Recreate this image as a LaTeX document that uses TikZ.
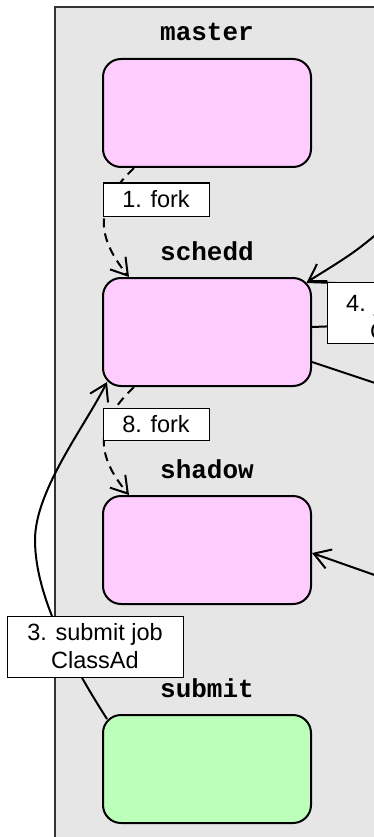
\documentclass[tikz,border=0pt]{standalone}
\usepackage{fontspec}
\setmainfont{Liberation Sans}
\newfontfamily\daemonfont{Liberation Mono}
\usetikzlibrary{arrows.meta}

\definecolor{panelgray}{HTML}{E6E6E6}
\definecolor{procpink}{HTML}{FFCCFF}
\definecolor{procgreen}{HTML}{BBFFBB}

\tikzset{
  panel/.style={draw=black!80, line width=1.5pt, fill=panelgray},
  daemon/.style={draw=black, line width=2pt, rounded corners=18pt,
    minimum width=208pt, minimum height=108pt, inner sep=0pt, fill=procpink},
  daemontitle/.style={anchor=base, inner sep=0pt,
    font=\daemonfont\bfseries\fontsize{26}{30}\selectfont},
  msgbox/.style={draw=black, line width=1pt, fill=white, inner sep=0pt,
    align=center, font=\fontsize{23.5}{28}\selectfont},
  msgtext/.style={anchor=base west, inner sep=0pt,
    font=\fontsize{23.5}{28}\selectfont},
  flow/.style={line width=2pt, -{Straight Barb[length=16pt,width=20pt]}},
  fork/.style={flow, dash pattern=on 9pt off 6pt},
  link/.style={line width=2pt},
}

\begin{document}
\begin{tikzpicture}[x=1pt,y=-1pt]
\useasboundingbox (0,0) rectangle (374,837);
\clip (0,0) rectangle (374,837);

% submit machine panel
\draw[panel] (55,7) rectangle (440,900);

% daemons
\node[daemon] (master) at (207,113) {};
\node[daemon] (schedd) at (207,332) {};
\node[daemon] (shadow) at (207,550) {};
\node[daemon, fill=procgreen] (submit) at (207,769) {};

\node[daemontitle] (masterT) at (207,41) {master};
\node[daemontitle] (scheddT) at (207,260) {schedd};
\node[daemontitle] (shadowT) at (207,478) {shadow};
\node[daemontitle] (submitT) at (207,697) {submit};

% off-page ends of the links to the other machines
\coordinate (inSchedd) at (400,214);
\coordinate (outA) at (420,286);
\coordinate (outB) at (420,323);
\coordinate (outC) at (420,398);
\coordinate (inShadow) at (420,591);

% forks
\draw[fork] ([xshift=32pt]master.south west)
  .. controls (95,205) and (95,235) .. ([xshift=27pt]schedd.north west);
\draw[fork] ([xshift=32pt]schedd.south west)
  .. controls (95,424) and (95,454) .. ([xshift=27pt]shadow.north west);

% submit job ClassAd to the schedd
\draw[flow] ([shift={(5pt,-5pt)}]submit.north west)
  .. controls (77,672) and (35,600) .. (35,540)
  .. controls (35,490) and (85.5,425.5) .. ([shift={(5pt,5pt)}]schedd.south west);

% links to and from the other machines
\draw[flow] (inSchedd) .. controls (357,251) .. ([shift={(-5pt,-5pt)}]schedd.north east);
\draw[link] ([shift={(-5pt,-5pt)}]schedd.north east) -- (outA);
\draw[link] ([yshift=5pt]schedd.east) -- (outB);
\draw[link] ([yshift=-30pt]schedd.east) -- (outC);
\draw[flow] (inShadow) -- ([yshift=-3pt]shadow.east);

% message labels
\node[msgbox, minimum width=106pt, minimum height=33pt] (lfork1) at (156,199.5) {1. fork};
\node[msgbox, minimum width=106pt, minimum height=32pt] (lfork8) at (156,424) {8. fork};
\node[msgbox, minimum width=176pt, minimum height=61pt] (lsubmit) at (95,646.5) {3. submit job\\ClassAd};
\node[msgbox, minimum width=160pt, minimum height=61pt] (ljob) at (407,312.5) {};
\node[msgtext] (ljobA) at (346,311) {4. job};
\node[msgtext] (ljobB) at (370,339) {ClassAd};
\end{tikzpicture}
\end{document}
